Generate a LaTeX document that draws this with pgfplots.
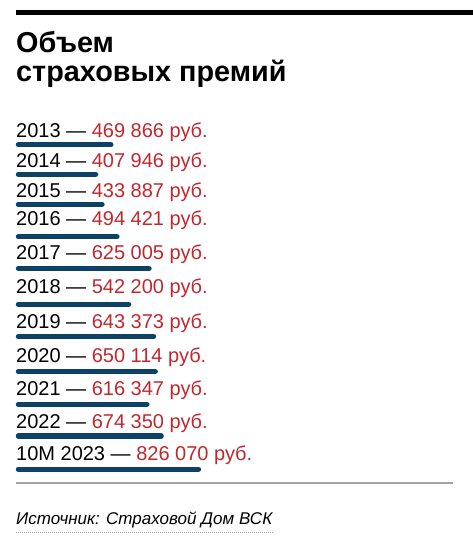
\documentclass[border=0pt]{standalone}
\usepackage{fontspec}
\setmainfont{Liberation Sans}
\usepackage{pgfplots}
\pgfplotsset{compat=1.18}

\definecolor{barblue}{HTML}{0D4266}
\definecolor{valred}{HTML}{C1272D}
\definecolor{rulegray}{HTML}{A3A3A3}

% one bar: value, row position (px from top)
\newcommand{\rowbar}[2]{\addplot[barblue, line width=5.5pt, line cap=round] coordinates {(94720,#2) (#1,#2)};}
% one label: year, value text, baseline (px from top)
\newcommand{\rowlabel}[3]{\node[anchor=base west, inner sep=0pt, font=\fontsize{20}{24}\selectfont]
  at (axis cs:84560,#3) {#1 — \textcolor{valred}{#2 руб.}};}

\begin{document}
\begin{tikzpicture}
\useasboundingbox (0,0) rectangle (473pt,542pt);

% top rule and title
\fill[black] (16pt,527pt) rectangle (473pt,532pt);
\node[anchor=base west, inner sep=0pt, font=\bfseries\fontsize{28.8}{29}\selectfont] at (16pt,489pt) {Объем};
\node[anchor=base west, inner sep=0pt, font=\bfseries\fontsize{28.8}{29}\selectfont] at (16pt,460pt) {страховых премий};

\begin{axis}[
    at={(16pt,0pt)}, anchor=south west,
    scale only axis, width=457pt, height=542pt,
    xmin=84560, xmax=1942265,
    ymin=0, ymax=542, y dir=reverse,
    hide axis, clip=false,
]
\rowbar{469866}{144.7}
\rowbar{407946}{174.3}
\rowbar{433887}{204.3}
\rowbar{494421}{236.7}
\rowbar{625005}{268.5}
\rowbar{542200}{304.3}
\rowbar{643373}{336.7}
\rowbar{650114}{371.7}
\rowbar{616347}{404.3}
\rowbar{674350}{436.0}
\rowbar{826070}{469.3}

\rowlabel{2013}{469 866}{137.3}
\rowlabel{2014}{407 946}{167.3}
\rowlabel{2015}{433 887}{197.3}
\rowlabel{2016}{494 421}{225.3}
\rowlabel{2017}{625 005}{259.0}
\rowlabel{2018}{542 200}{293.3}
\rowlabel{2019}{643 373}{328.3}
\rowlabel{2020}{650 114}{362.3}
\rowlabel{2021}{616 347}{395.0}
\rowlabel{2022}{674 350}{428.3}
\rowlabel{10M 2023}{826 070}{460.0}
\end{axis}

% source block
\draw[rulegray, line width=1.5pt] (16pt,59pt) -- (453pt,59pt);
\node[anchor=base west, inner sep=0pt, font=\itshape\fontsize{17}{20}\selectfont] at (16pt,17pt) {Источник: Страховой Дом ВСК};
\draw[rulegray, line width=0.7pt, dash pattern=on 0.7pt off 1.3pt] (16pt,10pt) -- (273pt,10pt);
\end{tikzpicture}
\end{document}
